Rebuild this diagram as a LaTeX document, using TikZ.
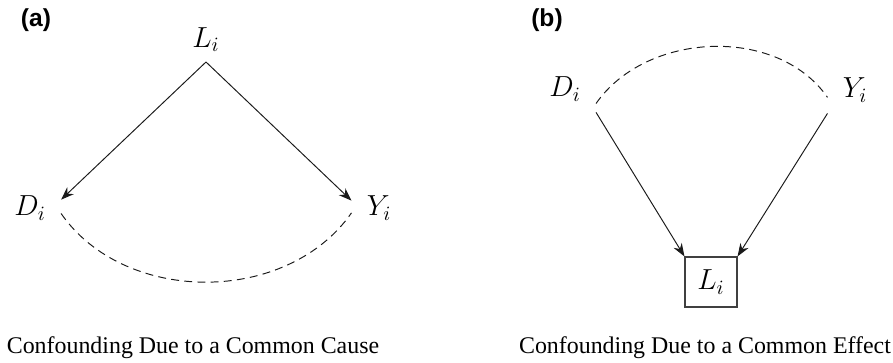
\RequirePackage{fix-cm}
\documentclass[tikz,border=0pt]{standalone}
\usepackage{fontspec}
\usepackage{tikz}
\usetikzlibrary{
  arrows.meta,
  positioning
}
\newfontfamily\capfont{Liberation Serif}
\newfontfamily\tagfont{Liberation Sans}
\definecolor{dagLine}{HTML}{1A1A1A}
\tikzset{
  dagvar/.style={
    inner xsep=0.3cm, inner ysep=0.22cm, font=\fontsize{16.5}{20}\selectfont
  },
  dagbox/.style={
    draw=black!75, line width=0.6pt, minimum width=1.04cm, minimum height=1cm,
    inner sep=0pt, font=\fontsize{16.5}{20}\selectfont
  },
  cause/.style={-{Stealth[length=2.6mm, width=1.9mm]}, line width=0.55pt, dagLine},
  assoc/.style={dash pattern=on 4.5pt off 3pt, line width=0.55pt, dagLine},
  panel/.style={font=\tagfont\bfseries\fontsize{14}{16}\selectfont},
  caption/.style={font=\capfont\fontsize{13.6}{16}\selectfont}
}

\begin{document}
\begin{tikzpicture}[x=0.02cm, y=-0.02cm]
  \useasboundingbox (0,0) rectangle (893,362);
  % (a) common cause
  \node[panel] (tagA) at (36,20) {(a)};
  \node[dagvar, anchor=south, inner ysep=0.2cm] (La) at (206,62) {$L_i$};
  \node[dagvar] (Da) at (30,208) {$D_i$};
  \node[dagvar] (Ya) at (379,208) {$Y_i$};
  \draw[cause] (La.south) -- (Da.15);
  \draw[cause] (La.south) -- (Ya.165);
  \draw[assoc] (Da.-10) .. controls +(64,92) and +(-64,92) .. (Ya.190);
  \node[caption] (capA) at (193,348) {Confounding Due to a Common Cause};
  % (b) common effect
  \node[panel] (tagB) at (547,20) {(b)};
  \node[dagvar] (Db) at (565,89) {$D_i$};
  \node[dagvar] (Yb) at (855,90) {$Y_i$};
  \node[dagbox] (Lb) at (711,282) {$L_i$};
  \draw[cause] (Db.south east) -- (Lb.north west);
  \draw[cause] (Yb.south west) -- (Lb.north east);
  \draw[assoc] (Db.-25) .. controls +(50,-72) and +(-50,-72) .. (Yb.195);
  \node[caption] (capB) at (705,348) {Confounding Due to a Common Effect};
\end{tikzpicture}
\end{document}
